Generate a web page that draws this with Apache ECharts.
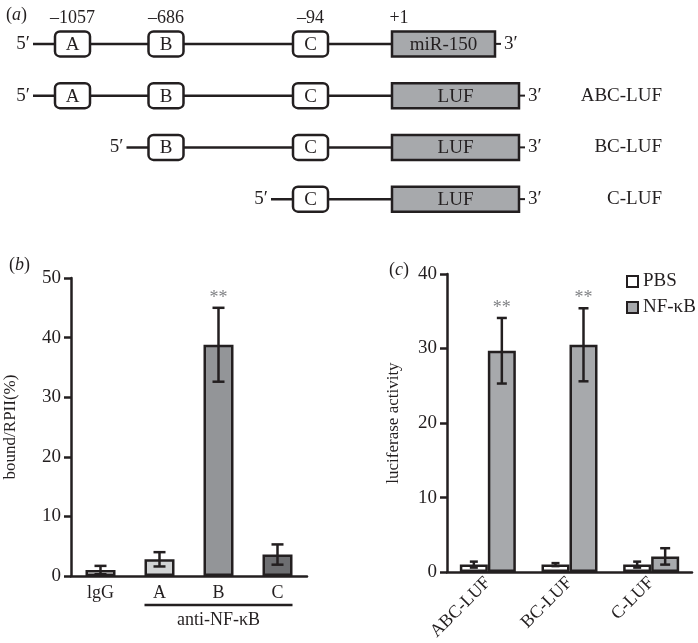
<!DOCTYPE html>
<html>
<head>
<meta charset="utf-8">
<script src="https://cdn.jsdelivr.net/npm/echarts@6/dist/echarts.min.js"></script>
<style>
  html, body { margin: 0; padding: 0; background: #fff; }
  #main { width: 698px; height: 643px; }
</style>
</head>
<body>
<div id="main"></div>
<script>
// ---- data ----
// (a) promoter constructs
var constructs = ['miR-150', 'ABC-LUF', 'BC-LUF', 'C-LUF'];
var constructSites = [['A', 'B', 'C'], ['A', 'B', 'C'], ['B', 'C'], ['C']];
var geneLabels = ['miR-150', 'LUF', 'LUF', 'LUF'];
var siteNames = ['A', 'B', 'C'];
var sitePositions = ['–1057', '–686', '–94'];
var tssLabel = '+1';

// (b) ChIP
var chipCats = ['lgG', 'A', 'B', 'C'];
var chipMean = [1.0, 2.8, 38.8, 3.6];
var chipErr = [0.7, 1.2, 6.2, 1.7];
var chipSig = ['', '', '**', ''];
var chipGroup = 'anti-NF-κB';

// (c) luciferase
var lucCats = ['ABC-LUF', 'BC-LUF', 'C-LUF'];
var pbsMean = [1.0, 1.0, 1.0];
var pbsErr = [0.4, 0.2, 0.4];
var nfkbMean = [29.7, 30.5, 2.1];
var nfkbErr = [4.4, 4.9, 1.1];
var lucSig = ['**', '**', ''];

// ---- styles / schematic layout ----
var FONT = '"Liberation Serif", "Times New Roman", serif';
var INK = '#231f20';
var GREY_SIG = '#808285';
// schematic x units for panel (a) (not to scale)
var siteX = { A: 72.5, B: 166, C: 310.5 };
var geneStart = 392;
var geneEnd = [495, 519, 519, 519];

var myChart = echarts.init(document.getElementById('main'));

function diagramItem(params, api) {
  var row = api.value(0);
  var y = api.coord([0, row])[1];
  var px = function (v) { return api.coord([v, row])[0]; };
  var kids = [];
  var sites = constructSites[row];
  var bw = 35, bh = 25;
  var firstLeft = px(siteX[sites[0]]) - bw / 2;
  var lineStart = firstLeft - 22;
  var g0 = px(geneStart), g1 = px(geneEnd[row]);
  kids.push({ type: 'line', shape: { x1: lineStart, y1: y, x2: g0, y2: y }, style: { stroke: INK, lineWidth: 2.5 } });
  kids.push({ type: 'text', style: { text: '5′', x: lineStart - 3, y: y, align: 'right', verticalAlign: 'middle', font: '19px ' + FONT, fill: INK } });
  sites.forEach(function (s) {
    var cx = px(siteX[s]);
    kids.push({ type: 'rect', shape: { x: cx - bw / 2, y: y - bh / 2, width: bw, height: bh, r: 5 }, style: { fill: '#fff', stroke: INK, lineWidth: 2.5 } });
    kids.push({ type: 'text', style: { text: s, x: cx, y: y + 1, align: 'center', verticalAlign: 'middle', font: '19px ' + FONT, fill: INK } });
  });
  kids.push({ type: 'rect', shape: { x: g0, y: y - bh / 2, width: g1 - g0, height: bh }, style: { fill: '#a7a9ac', stroke: INK, lineWidth: 2.5 } });
  kids.push({ type: 'text', style: { text: geneLabels[row], x: (g0 + g1) / 2, y: y + 1, align: 'center', verticalAlign: 'middle', font: '19px ' + FONT, fill: INK } });
  kids.push({ type: 'line', shape: { x1: g1, y1: y, x2: g1 + 6, y2: y }, style: { stroke: INK, lineWidth: 2 } });
  kids.push({ type: 'text', style: { text: '3′', x: g1 + 9, y: y, align: 'left', verticalAlign: 'middle', font: '19px ' + FONT, fill: INK } });
  if (row === 0) {
    siteNames.forEach(function (s, i) {
      kids.push({ type: 'text', style: { text: sitePositions[i], x: px(siteX[s]), y: y - 26, align: 'center', verticalAlign: 'middle', font: '18px ' + FONT, fill: INK } });
    });
    kids.push({ type: 'text', style: { text: tssLabel, x: g0 + 7, y: y - 26, align: 'center', verticalAlign: 'middle', font: '18px ' + FONT, fill: INK } });
  } else {
    kids.push({ type: 'text', style: { text: constructs[row], x: px(662), y: y, align: 'right', verticalAlign: 'middle', font: '19px ' + FONT, fill: INK } });
  }
  return { type: 'group', children: kids };
}

function errItem(mean, err, sig, offset, cap) {
  return function (params, api) {
    var i = api.value(0);
    var top = api.coord([i, mean[i] + err[i]]);
    var bot = api.coord([i, mean[i] - err[i]]);
    var x = top[0] + offset;
    var kids = [
      { type: 'line', shape: { x1: x, y1: top[1], x2: x, y2: bot[1] }, style: { stroke: INK, lineWidth: 2.5 } },
      { type: 'line', shape: { x1: x - cap, y1: top[1], x2: x + cap, y2: top[1] }, style: { stroke: INK, lineWidth: 2.5 } },
      { type: 'line', shape: { x1: x - cap, y1: bot[1], x2: x + cap, y2: bot[1] }, style: { stroke: INK, lineWidth: 2.5 } }
    ];
    if (sig && sig[i]) {
      kids.push({ type: 'text', style: { text: sig[i], x: x, y: top[1] - 1, align: 'center', verticalAlign: 'bottom', font: '18px ' + FONT, fill: GREY_SIG } });
    }
    return { type: 'group', children: kids };
  };
}

var axisLine = { show: true, lineStyle: { color: INK, width: 2.5 } };
var tickStyle = { show: true, inside: false, length: 7, lineStyle: { color: INK, width: 2.5 } };
var labelStyle = { color: INK, fontFamily: FONT, fontSize: 19 };

var option = {
  backgroundColor: '#fff',
  animation: false,
  textStyle: { fontFamily: FONT },
  title: [
    { text: '({i|a})', left: 1, top: 1 },
    { text: '({i|b})', left: 4, top: 251 },
    { text: '({i|c})', left: 384, top: 256 }
  ].map(function (t) {
    t.textStyle = { fontFamily: FONT, fontSize: 18, fontWeight: 'normal', color: INK,
      rich: { i: { fontFamily: FONT, fontSize: 18, fontStyle: 'italic', color: INK } } };
    return t;
  }),
  legend: {
    data: ['PBS', 'NF-κB'],
    orient: 'vertical',
    left: 621,
    top: 267,
    itemWidth: 11,
    itemHeight: 11,
    itemGap: 7,
    icon: 'rect',
    itemStyle: { borderColor: INK, borderWidth: 2 },
    textStyle: { color: INK, fontFamily: FONT, fontSize: 19 }
  },
  grid: [
    { left: 0, top: 18, width: 698, height: 207 },
    { left: 71, top: 278, width: 236, height: 298 },
    { left: 447, top: 274, width: 245, height: 299 }
  ],
  xAxis: [
    { gridIndex: 0, type: 'value', min: 0, max: 698, show: false },
    { gridIndex: 1, type: 'category', data: chipCats, axisLine: axisLine, axisTick: { show: false },
      axisLabel: Object.assign({ margin: 8 }, labelStyle, { fontSize: 18 }) },
    { gridIndex: 2, type: 'category', data: lucCats, axisLine: axisLine, axisTick: { show: false },
      axisLabel: Object.assign({ margin: 8, rotate: 45 }, labelStyle, { fontSize: 18 }) }
  ],
  yAxis: [
    { gridIndex: 0, type: 'category', data: constructs, inverse: true, show: false },
    { gridIndex: 1, type: 'value', min: 0, max: 50, interval: 10, axisLine: axisLine, axisTick: tickStyle,
      splitLine: { show: false }, axisLabel: Object.assign({ margin: 10 }, labelStyle),
      name: 'bound/RPII(%)', nameLocation: 'middle', nameGap: 52,
      nameTextStyle: { color: INK, fontFamily: FONT, fontSize: 17 } },
    { gridIndex: 2, type: 'value', min: 0, max: 40, interval: 10, axisLine: axisLine, axisTick: tickStyle,
      splitLine: { show: false }, axisLabel: Object.assign({ margin: 10 }, labelStyle),
      name: 'luciferase activity', nameLocation: 'middle', nameGap: 45,
      nameTextStyle: { color: INK, fontFamily: FONT, fontSize: 17 } }
  ],
  series: [
    {
      type: 'custom', xAxisIndex: 0, yAxisIndex: 0, clip: false,
      data: constructs.map(function (c, i) { return [i]; }),
      encode: { y: 0 },
      renderItem: diagramItem
    },
    {
      name: 'ChIP', type: 'bar', xAxisIndex: 1, yAxisIndex: 1, barWidth: 30,
      data: chipMean.map(function (v, i) {
        return { value: v, itemStyle: { color: ['#ffffff', '#d1d3d4', '#939598', '#6d6e71'][i] } };
      }),
      itemStyle: { borderColor: INK, borderWidth: 2.5 }
    },
    {
      type: 'custom', xAxisIndex: 1, yAxisIndex: 1, clip: false, z: 5,
      data: chipCats.map(function (c, i) { return [i, chipMean[i]]; }),
      renderItem: errItem(chipMean, chipErr, chipSig, 0, 6)
    },
    {
      type: 'custom', xAxisIndex: 1, yAxisIndex: 1, clip: false,
      data: [[1, 0]],
      renderItem: function (params, api) {
        var a = api.coord([1, 0]);
        var c = api.coord([chipCats.length - 1, 0]);
        var y = a[1] + 29;
        return { type: 'group', children: [
          { type: 'line', shape: { x1: a[0] - 15, y1: y, x2: c[0] + 15, y2: y }, style: { stroke: INK, lineWidth: 2.5 } },
          { type: 'text', style: { text: chipGroup, x: (a[0] + c[0]) / 2, y: y + 15, align: 'center', verticalAlign: 'middle',
            font: '18px ' + FONT, fill: INK } }
        ] };
      }
    },
    {
      name: 'PBS', type: 'bar', xAxisIndex: 2, yAxisIndex: 2, barWidth: 28, barGap: '0%',
      data: pbsMean,
      itemStyle: { color: '#ffffff', borderColor: INK, borderWidth: 2.5 }
    },
    {
      name: 'NF-κB', type: 'bar', xAxisIndex: 2, yAxisIndex: 2, barWidth: 28, barGap: '0%',
      data: nfkbMean,
      itemStyle: { color: '#a7a9ac', borderColor: INK, borderWidth: 2.5 }
    },
    {
      type: 'custom', xAxisIndex: 2, yAxisIndex: 2, clip: false, z: 5,
      data: lucCats.map(function (c, i) { return [i, pbsMean[i]]; }),
      renderItem: errItem(pbsMean, pbsErr, null, -14, 4)
    },
    {
      type: 'custom', xAxisIndex: 2, yAxisIndex: 2, clip: false, z: 5,
      data: lucCats.map(function (c, i) { return [i, nfkbMean[i]]; }),
      renderItem: errItem(nfkbMean, nfkbErr, lucSig, 14, 5)
    }
  ]
};

myChart.setOption(option);
</script>
</body>
</html>
